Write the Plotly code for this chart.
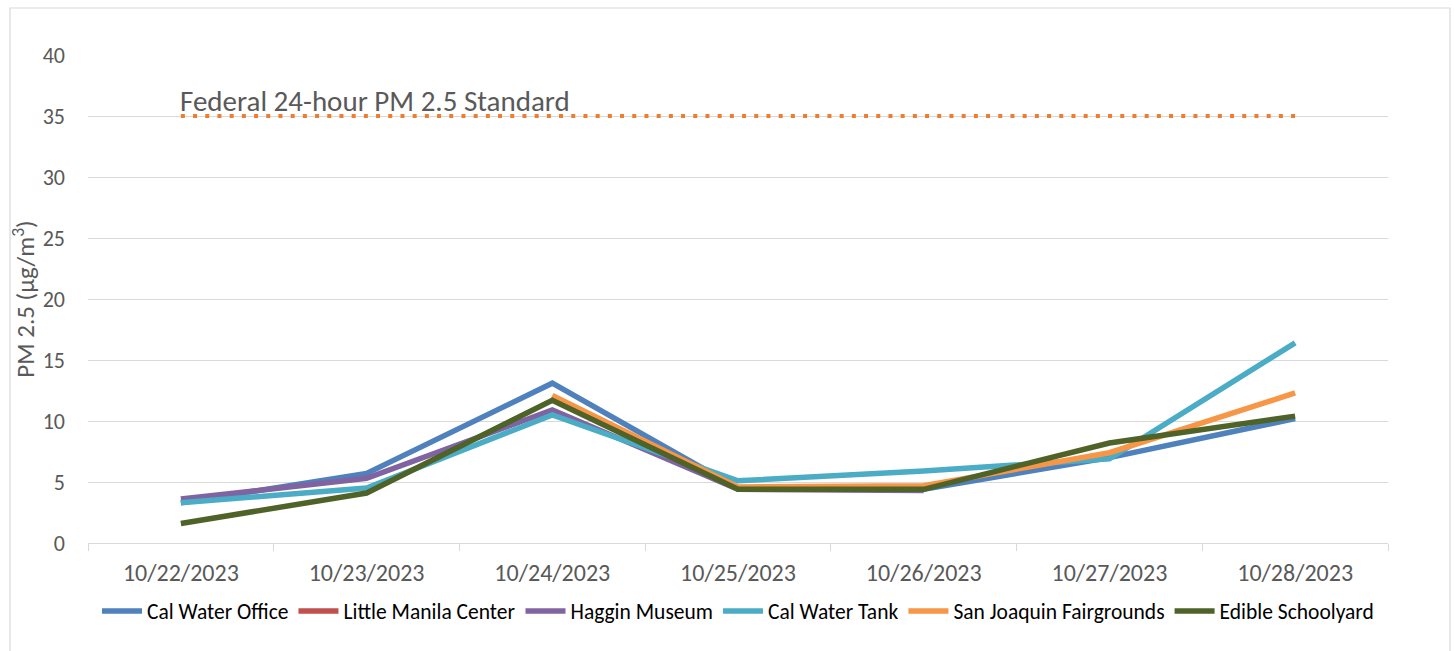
import plotly.graph_objects as go

dates = ["10/22/2023", "10/23/2023", "10/24/2023", "10/25/2023", "10/26/2023", "10/27/2023", "10/28/2023"]
cal_water_office = [3.3, 5.7, 13.1, 4.5, 4.4, 7.0, 10.2]
little_manila = [None, None, None, None, None, None, None]
haggin_museum = [3.6, 5.3, 10.9, 4.4, 4.3, None, None]
cal_water_tank = [3.3, 4.5, 10.5, 5.1, 5.9, 6.9, 16.4]
san_joaquin = [None, None, 12.1, 4.6, 4.7, 7.4, 12.3]
edible_schoolyard = [1.6, 4.1, 11.7, 4.4, 4.4, 8.2, 10.4]
federal_standard = [35, 35, 35, 35, 35, 35, 35]
y_ticks = [0, 5, 10, 15, 20, 25, 30, 35, 40]

series = [
    ("Cal Water Office", cal_water_office, "#4F81BD"),
    ("Little Manila Center", little_manila, "#C0504D"),
    ("Haggin Museum", haggin_museum, "#8064A2"),
    ("Cal Water Tank", cal_water_tank, "#4BACC6"),
    ("San Joaquin Fairgrounds", san_joaquin, "#F79646"),
    ("Edible Schoolyard", edible_schoolyard, "#4F6228"),
]

FONT = "Carlito, Calibri, Lato, sans-serif"
W, H = 1455, 651
L, R, T, B = 88, 1388, 55, 543

fig = go.Figure()
fig.add_trace(go.Scatter(x=dates, y=federal_standard, mode="lines", showlegend=False,
                         line=dict(color="#ED7D31", width=4, dash="4px,8.2px"), hoverinfo="skip"))
for name, vals, col in series:
    fig.add_trace(go.Scatter(x=dates, y=vals, name=name, mode="lines",
                             line=dict(color=col, width=5.5)))

fig.add_annotation(x=dates[0], y=federal_standard[0], xref="x", yref="y",
                   text="Federal 24-hour PM 2.5 Standard", showarrow=False,
                   xanchor="left", yanchor="bottom", xshift=-3, yshift=-5,
                   font=dict(family=FONT, size=29, color="#595959"))

def px(x):
    return (x - L) / (R - L)

def py(y):
    return (B - y) / (B - T)

fig.add_shape(type="rect", xref="paper", yref="paper",
              x0=px(10), x1=px(1450), y0=py(660), y1=py(8),
              line=dict(color="#D9D9D9", width=1.2), fillcolor="rgba(0,0,0,0)", layer="below")

fig.update_layout(
    width=W, height=H,
    margin=dict(l=L, r=W - R, t=T, b=H - B),
    paper_bgcolor="white", plot_bgcolor="white",
    font=dict(family=FONT, color="#595959"),
    showlegend=True,
    legend=dict(orientation="h", x=0.5, xanchor="center", y=py(611), yanchor="middle",
                font=dict(family=FONT, size=21.5, color="#000000"),
                itemwidth=40, tracegroupgap=0),
    xaxis=dict(type="category", range=[-0.5, 6.5], showgrid=False,
               showline=True, linecolor="#D9D9D9", linewidth=1.2,
               ticks="outside", tickson="boundaries", ticklen=7, tickcolor="#D9D9D9",
               ticklabelstandoff=8,
               tickfont=dict(family=FONT, size=24, color="#595959"), zeroline=False),
    yaxis=dict(range=[0, 40], tickvals=y_ticks, showgrid=True, gridcolor="#D9D9D9", gridwidth=1.2,
               zeroline=False, showline=False, ticks="", ticklabelstandoff=22,
               tickfont=dict(family=FONT, size=22, color="#595959"),
               title=dict(text="PM 2.5 (µg/m<sup>3</sup>)", standoff=0,
                          font=dict(family=FONT, size=25, color="#595959"))),
)

fig.write_html("out.html", config={"displayModeBar": False},
               post_script="document.body.style.margin='0';")
